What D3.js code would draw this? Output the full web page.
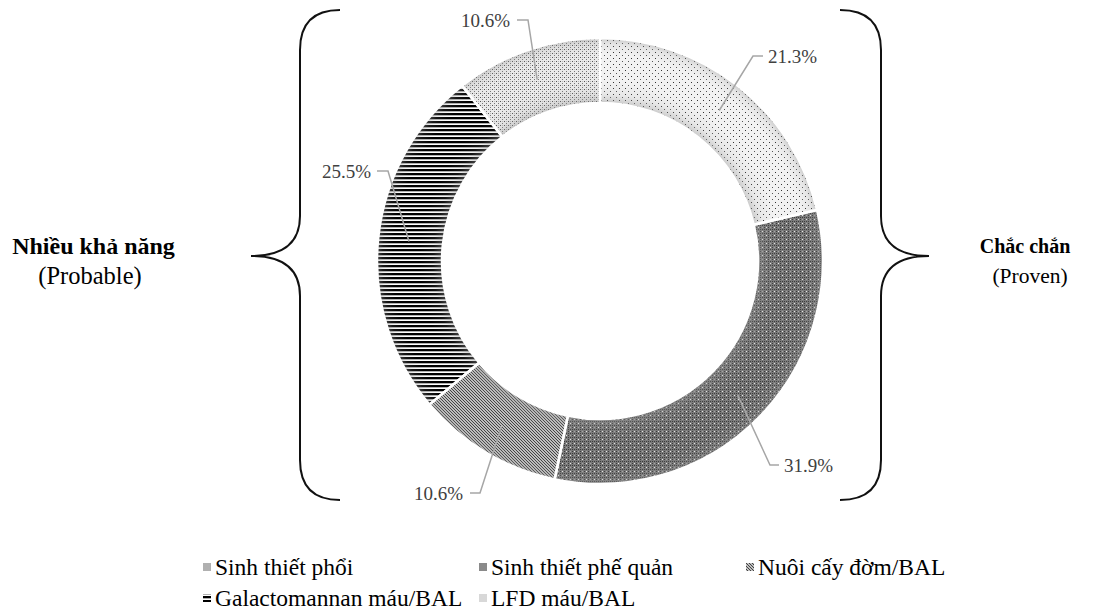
<!DOCTYPE html>
<html><head><meta charset="utf-8">
<script src="https://cdn.jsdelivr.net/npm/d3@7/dist/d3.min.js"></script>
<style>
html,body{margin:0;padding:0;background:#fff;}
svg{display:block;}
text{font-family:"Liberation Serif","Times New Roman","DejaVu Serif",serif;}
</style></head>
<body><svg id="c" width="1094" height="615"></svg>
<script>
const categories = ["Sinh thiết phổi","Sinh thiết phế quản","Nuôi cấy đờm/BAL","Galactomannan máu/BAL","LFD máu/BAL"];
const values = [21.3, 31.9, 10.6, 25.5, 10.6];
const valueLabels = ["21.3%","31.9%","10.6%","25.5%","10.6%"];
const groupTitles = ["Nhiều khả năng","Chắc chắn"];
const groupSubtitles = ["(Probable)","(Proven)"];

const svg = d3.select("#c");
const FONT = '"Liberation Serif","Times New Roman","DejaVu Serif",serif';
const cx = 600, cy = 261, R = 223, r0 = 158;
const defs = svg.append("defs");

function pat(id, w, h, bg, draw){
  const p = defs.append("pattern").attr("id",id).attr("patternUnits","userSpaceOnUse").attr("width",w).attr("height",h);
  p.append("rect").attr("width",w).attr("height",h).attr("fill",bg);
  draw(p);
}
pat("p0",6,6,"#f2f2f2",p=>{
  p.append("rect").attr("x",1).attr("y",1).attr("width",1).attr("height",1).attr("fill","#333");
  p.append("rect").attr("x",4).attr("y",4).attr("width",1).attr("height",1).attr("fill","#555");
});
pat("p1",8,8,"#7a7a7a",p=>{
  for(let i=0;i<8;i++)for(let j=0;j<8;j++){ if((i+j)%2===0 && (i%4===0 || j%4===0)) p.append("rect").attr("x",i).attr("y",j).attr("width",1).attr("height",1).attr("fill","#3c3c3c"); }
  p.append("rect").attr("x",2).attr("y",2).attr("width",1).attr("height",1).attr("fill","#e8e8e8");
  p.append("rect").attr("x",6).attr("y",6).attr("width",1).attr("height",1).attr("fill","#e8e8e8");
  p.append("rect").attr("x",6).attr("y",2).attr("width",1).attr("height",1).attr("fill","#a8a8a8");
  p.append("rect").attr("x",2).attr("y",6).attr("width",1).attr("height",1).attr("fill","#a8a8a8");
});
pat("p2",3,3,"#f4f4f4",p=>{
  p.append("path").attr("d","M-1,-1 L4,4 M-1,2 L1,4 M2,-1 L4,1").attr("stroke","#3a3a3a").attr("stroke-width",1.1);
});
pat("p3",4,4,"#ffffff",p=>{
  p.append("rect").attr("x",0).attr("y",0).attr("width",4).attr("height",2.3).attr("fill","#000");
});
pat("p4",4,4,"#eaeaea",p=>{
  p.append("rect").attr("x",0).attr("y",0).attr("width",1).attr("height",1).attr("fill","#555");
  p.append("rect").attr("x",2).attr("y",2).attr("width",1).attr("height",1).attr("fill","#777");
  p.append("rect").attr("x",2).attr("y",0).attr("width",1).attr("height",1).attr("fill","#bbb");
});
const fills = ["url(#p0)","url(#p1)","url(#p2)","url(#p3)","url(#p4)"];

const rg = defs.append("radialGradient").attr("id","soft").attr("gradientUnits","userSpaceOnUse")
  .attr("cx",0).attr("cy",0).attr("r",R);
const a = r0/R;
[[a,0.45],[a+0.04,0.12],[a+0.1,0],[0.93,0],[0.975,0.15],[1,0.45]].forEach(([o,op])=>{
  rg.append("stop").attr("offset",o).attr("stop-color","#999").attr("stop-opacity",op);
});

const pie = d3.pie().sort(null).value(d=>d)(values);
const arc = d3.arc().innerRadius(r0).outerRadius(R);
const g = svg.append("g").attr("transform",`translate(${cx},${cy})`);
g.selectAll("path.s").data(pie).join("path").attr("class","s")
  .attr("d",arc).attr("fill",(d,i)=>fills[i]);
g.selectAll("path.soft").data(pie).join("path").attr("class","soft")
  .attr("d",arc).attr("fill","url(#soft)");
g.selectAll("path.sep").data(pie).join("path").attr("class","sep")
  .attr("d",arc).attr("fill","none").attr("stroke","#fff").attr("stroke-width",2.5);

const labelLayout = [
  {ex:753, ey:56, hx:763, tx:768, anchor:"start"},
  {ex:770, ey:465, hx:779, tx:784, anchor:"start"},
  {ex:480, ey:493, hx:470, tx:463, anchor:"end"},
  {ex:388, ey:171, hx:377, tx:371, anchor:"end"},
  {ex:528, ey:20, hx:517, tx:510, anchor:"end"}
];
const lineG = svg.append("g");
pie.forEach((d,i)=>{
  const m = (d.startAngle+d.endAngle)/2, rr = 192;
  const sx = cx + rr*Math.sin(m), sy = cy - rr*Math.cos(m);
  const L = labelLayout[i];
  lineG.append("path").attr("d",`M${sx},${sy}L${L.ex},${L.ey}L${L.hx},${L.ey}`)
    .attr("fill","none").attr("stroke","#a6a6a6").attr("stroke-width",1.5);
  lineG.append("text").attr("x",L.tx).attr("y",L.ey).attr("dy","0.35em").attr("font-family",FONT)
    .attr("text-anchor",L.anchor).attr("font-size",19).attr("fill","#404040").text(valueLabels[i]);
});

const brace = (x0, xv, xt) => {
  const top=10, bot=500, mid=256, c=40;
  return `M${x0},${top} Q${xv},${top} ${xv},${top+c} L${xv},${mid-c} Q${xv},${mid} ${xt},${mid}`+
         ` Q${xv},${mid} ${xv},${mid+c} L${xv},${bot-c} Q${xv},${bot} ${x0},${bot}`;
};
svg.append("path").attr("d",brace(340,300,251)).attr("fill","none").attr("stroke","#111").attr("stroke-width",2);
svg.append("path").attr("d",brace(840,881,929)).attr("fill","none").attr("stroke","#111").attr("stroke-width",2);

const titleLayout = [
  {x:93.5, ty:254, ts:24, sx:90, sy:284, ss:24.5},
  {x:1025, ty:253, ts:20, sx:1030, sy:283, ss:21.5}
];
titleLayout.forEach((L,i)=>{
  svg.append("text").attr("x",L.x).attr("y",L.ty).attr("text-anchor","middle").attr("font-size",L.ts).attr("font-family",FONT)
    .attr("font-weight","bold").attr("fill","#000").text(groupTitles[i]);
  svg.append("text").attr("x",L.sx).attr("y",L.sy).attr("text-anchor","middle").attr("font-size",L.ss).attr("font-family",FONT)
    .attr("fill","#000").text(groupSubtitles[i]);
});

const legPos = [[203,567],[479,567],[746,567],[203,598],[479,598]];
const legMarkerFill = ["#b0b0b0","#8a8a8a","url(#p2)","url(#p3)","#d8d8d8"];
const lg = svg.append("g");
categories.forEach((c,i)=>{
  const [x,y] = legPos[i];
  lg.append("rect").attr("x",x).attr("y",y-4).attr("width",8).attr("height",8).attr("fill",legMarkerFill[i]);
  lg.append("text").attr("x",x+12).attr("y",y).attr("dy","0.35em").attr("font-size",23.5).attr("font-family",FONT)
    .attr("fill","#000").text(c);
});
</script></body></html>
